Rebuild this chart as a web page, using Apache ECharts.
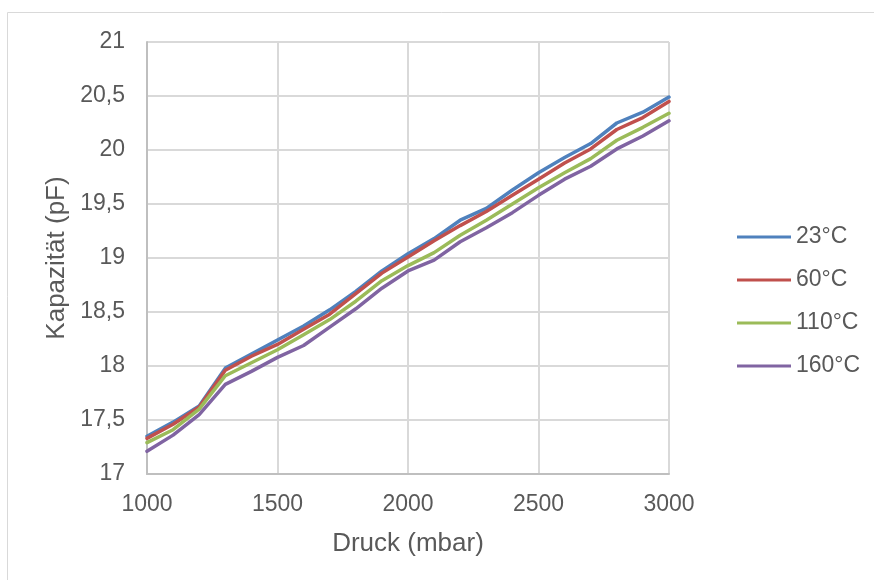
<!DOCTYPE html>
<html>
<head>
<meta charset="utf-8">
<title>Kapazität vs. Druck</title>
<script src="https://cdn.jsdelivr.net/npm/echarts@6/dist/echarts.min.js"></script>
<style>
  html, body { margin: 0; padding: 0; background: #fff; }
  #chart { width: 874px; height: 580px; }
</style>
</head>
<body>
<div id="chart"></div>
<script>
// Druck in mbar
const pressure = [1000, 1100, 1200, 1300, 1400, 1500, 1600, 1700, 1800, 1900, 2000,
  2100, 2200, 2300, 2400, 2500, 2600, 2700, 2800, 2900, 3000]

// Kapazität in pF, je Temperatur
const cap23 = [17.35, 17.48, 17.63, 17.98, 18.11, 18.24, 18.37, 18.52, 18.69, 18.88, 19.04,
  19.18, 19.35, 19.46, 19.63, 19.79, 19.93, 20.06, 20.25, 20.35, 20.49]
const cap60 = [17.33, 17.46, 17.62, 17.96, 18.09, 18.20, 18.34, 18.48, 18.67, 18.86, 19.01,
  19.16, 19.30, 19.43, 19.58, 19.73, 19.88, 20.01, 20.19, 20.30, 20.45]
const cap110 = [17.29, 17.41, 17.60, 17.91, 18.03, 18.15, 18.29, 18.43, 18.60, 18.79, 18.93,
  19.05, 19.21, 19.35, 19.50, 19.65, 19.79, 19.92, 20.09, 20.21, 20.34]
const cap160 = [17.21, 17.36, 17.55, 17.83, 17.95, 18.08, 18.19, 18.36, 18.53, 18.72, 18.88,
  18.98, 19.15, 19.28, 19.42, 19.58, 19.73, 19.85, 20.01, 20.13, 20.27]

const seriesNames = ['23°C', '60°C', '110°C', '160°C']
const seriesColors = ['#4F81BD', '#C0504D', '#9BBB59', '#8064A2']
const seriesValues = [cap23, cap60, cap110, cap160]

const textColor = '#595959'
const fontFamily = '"Liberation Sans", Arial, sans-serif'

const chart = echarts.init(document.getElementById('chart'))

const option = {
  animation: false,
  textStyle: { fontFamily: fontFamily },
  // Rahmen um den Diagrammbereich
  graphic: [{
    type: 'rect',
    shape: { x: 7.5, y: 12.5, width: 1000, height: 1000 },
    style: { fill: 'none', stroke: '#D9D9D9', lineWidth: 1 },
    silent: true
  }],
  grid: {
    left: 147,
    right: 205,
    top: 42,
    bottom: 106
  },
  legend: {
    orient: 'vertical',
    left: 732,
    top: 219,
    icon: 'rect',
    itemWidth: 54,
    itemHeight: 3,
    itemGap: 17,
    data: seriesNames,
    textStyle: {
      color: textColor,
      fontSize: 23,
      lineHeight: 26,
      fontFamily: fontFamily
    }
  },
  xAxis: {
    type: 'value',
    min: 1000,
    max: 3000,
    interval: 500,
    name: 'Druck (mbar)',
    nameLocation: 'middle',
    nameGap: 57,
    nameTextStyle: { color: textColor, fontSize: 26, fontFamily: fontFamily },
    axisLine: { show: true, lineStyle: { color: '#BFBFBF', width: 2 } },
    axisTick: { show: false },
    axisLabel: {
      color: textColor,
      fontSize: 23,
      margin: 19,
      fontFamily: fontFamily,
      formatter: v => String(v)
    },
    splitLine: { show: true, lineStyle: { color: '#D9D9D9', width: 2 } }
  },
  yAxis: {
    type: 'value',
    min: 17,
    max: 21,
    interval: 0.5,
    name: 'Kapazität (pF)',
    nameLocation: 'middle',
    nameGap: 75,
    nameTextStyle: { color: textColor, fontSize: 26, fontFamily: fontFamily },
    axisLine: { show: true, lineStyle: { color: '#BFBFBF', width: 2 } },
    axisTick: { show: false },
    axisLabel: {
      color: textColor,
      fontSize: 23,
      margin: 22,
      fontFamily: fontFamily,
      formatter: v => String(v).replace('.', ',')
    },
    splitLine: { show: true, lineStyle: { color: '#D9D9D9', width: 2 } }
  },
  series: seriesNames.map((name, i) => ({
    name: name,
    type: 'line',
    data: pressure.map((p, j) => [p, seriesValues[i][j]]),
    showSymbol: false,
    symbol: 'none',
    color: seriesColors[i],
    lineStyle: { width: 3.5, color: seriesColors[i], join: 'round', cap: 'round' }
  }))
}

chart.setOption(option)
</script>
</body>
</html>
